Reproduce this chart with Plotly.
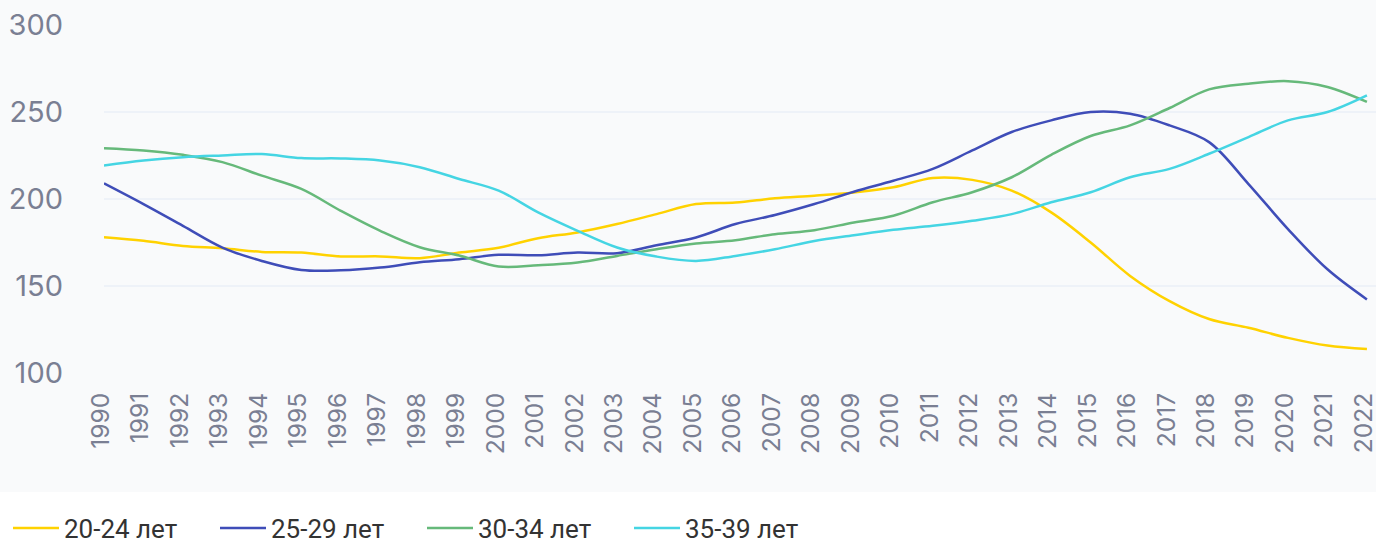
import plotly.graph_objects as go

years = list(range(1990, 2023))

age_20_24 = [178, 176, 173, 171.7, 169.6, 169.2, 167, 167, 166, 169.2, 172, 177.5, 180.8, 185.6, 191.3,
             197.1, 198, 200.4, 201.9, 203.8, 206.7, 212.1, 211, 204.8, 192.3, 175, 155.8, 141.3, 131,
             126, 120.2, 115.8, 113.8]
age_25_29 = [209, 197.1, 184.6, 172.1, 164.4, 159.2, 159, 160.6, 163.6, 165.4, 167.9, 167.7, 169.2, 168.8,
             173.4, 177.9, 185.6, 190.8, 197.1, 204.2, 210.5, 217.3, 227.9, 238.5, 245.2, 250, 249,
             242.3, 232.7, 208.6, 182.7, 159.6, 142.3]
age_30_34 = [229.2, 227.9, 225.4, 221.2, 213.4, 205.8, 193.2, 181.7, 172.3, 167.5, 161.2, 161.9, 163.5,
             167.3, 171.1, 174.4, 176.3, 179.8, 182.1, 186.5, 190.4, 198.1, 203.9, 212.5, 225.4, 236.2,
             242.3, 252.3, 263, 266.3, 267.7, 264.4, 255.8]
age_35_39 = [219.2, 222.1, 224, 225, 225.8, 223.5, 223.3, 222.1, 218.3, 211.5, 204.8, 192.3, 181.7, 172.1,
             166.9, 164.4, 167.3, 171.1, 175.9, 179.2, 182.3, 184.6, 187.5, 191.3, 198.1, 203.9, 212.5,
             217.3, 226, 235.6, 245.2, 250, 259.6]

series = [
    ("20-24 лет", age_20_24, "#FFD200"),
    ("25-29 лет", age_25_29, "#3F4DB8"),
    ("30-34 лет", age_30_34, "#66B97A"),
    ("35-39 лет", age_35_39, "#45D5E3"),
]

y_ticks = [100, 150, 200, 250, 300]

fig = go.Figure()
for name, vals, color in series:
    fig.add_trace(go.Scatter(
        x=years, y=vals, name=name, mode="lines",
        line=dict(color=color, width=2.5, shape="spline", smoothing=1),
        cliponaxis=False,
    ))

L, R, T, B = 104, 0, 25, 171
W, H = 1376, 544
ph = H - T - B
pw = W - L - R

fig.add_shape(type="rect", xref="paper", yref="paper", layer="below",
              x0=-L / pw, x1=1.0, y0=-(492 - (H - B)) / ph, y1=1 + T / ph,
              fillcolor="#f9fafb", line=dict(width=0))

fig.update_layout(
    width=W, height=H,
    margin=dict(l=L, r=R, t=T, b=B, autoexpand=False),
    paper_bgcolor="white",
    plot_bgcolor="rgba(0,0,0,0)",
    font=dict(family="Inter", color="#7a7f93"),
    showlegend=True,
    legend=dict(
        orientation="h", yref="paper", y=-(528 - (H - B)) / ph, yanchor="middle",
        xref="container", x=8 / W, xanchor="left",
        font=dict(size=26, color="#333333", family="Roboto"),
        itemwidth=46, entrywidth=146, entrywidthmode="pixels",
        bgcolor="rgba(0,0,0,0)",
        itemclick=False,
    ),
    xaxis=dict(
        range=[1990, 2022.23],
        tickmode="array", tickvals=years, ticktext=[str(y) for y in years],
        tickangle=-90, tickfont=dict(size=24.5, color="#7a7f93", family="Inter"),
        showgrid=False, zeroline=False, showline=False, ticks="",
        ticklabelstandoff=14, ticklabelshift=-3,
        automargin=False, ticklabeloverflow="allow",
    ),
    yaxis=dict(
        range=[100, 300],
        tickmode="array", tickvals=y_ticks,
        tickfont=dict(size=29, color="#7a7f93", family="Inter"),
        showgrid=True, gridcolor="#eef2f8", gridwidth=2,
        zeroline=False, showline=False, ticks="",
        ticklabelstandoff=40, automargin=False, ticklabeloverflow="allow",
    ),
)

fig.write_html("out.html", config={"displayModeBar": False},
               post_script="document.body.style.margin='0';document.body.style.overflow='hidden';")
